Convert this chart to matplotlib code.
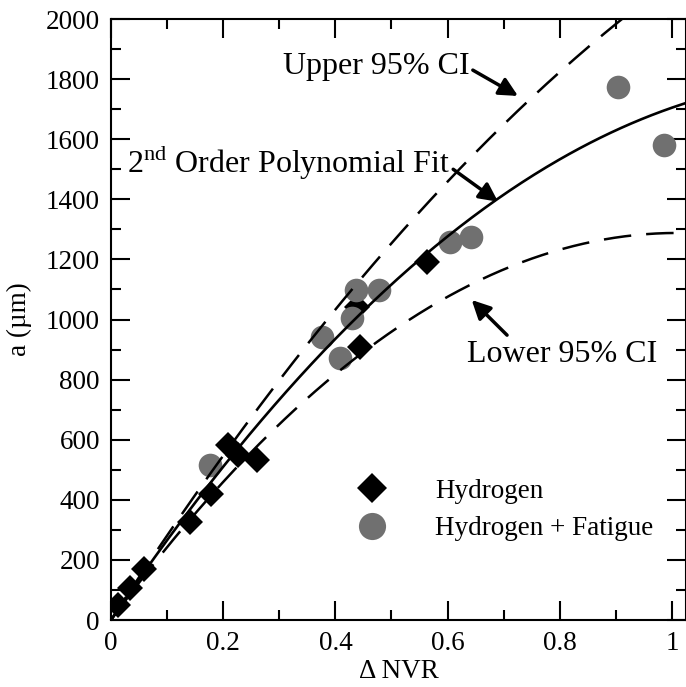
import matplotlib.pyplot as plt
import numpy as np

plt.rcParams['font.family'] = ['Liberation Serif', 'DejaVu Serif']
plt.rcParams['mathtext.fontset'] = 'custom'
plt.rcParams['mathtext.rm'] = 'Liberation Serif'

# hydrogen only specimens
hydrogen_nvr = [0.013, 0.033, 0.058, 0.141, 0.179, 0.209, 0.227, 0.26, 0.438, 0.443, 0.563]
hydrogen_a = [50, 105, 170, 327, 419, 582, 549, 532, 1043, 910, 1192]

# hydrogen + fatigue specimens
fatigue_nvr = [0.176, 0.376, 0.408, 0.429, 0.437, 0.477, 0.604, 0.642, 0.904, 0.985]
fatigue_a = [516, 943, 871, 1004, 1098, 1098, 1259, 1276, 1775, 1581]

# 2nd order polynomial coefficients (highest power first)
fit_coef = [-1057, 2762, 0]
upper_coef = [-759, 2887, 0]
lower_coef = [-1262, 2550, 0]


def label_arrow(ax, text, text_xy, ha, tail, tip):
    """Put a text label and an arrow pointing to a curve"""
    ax.text(text_xy[0], text_xy[1], text, fontsize=23, ha=ha, va='center')
    ax.annotate('', xy=tip, xytext=tail,
                arrowprops=dict(arrowstyle='-|>', color='black', lw=2.5,
                                mutation_scale=28, shrinkA=0, shrinkB=0))


fig = plt.figure(figsize=(6.86, 6.87), dpi=100)
ax = fig.add_axes([0.1618, 0.0975, 0.8382, 0.8748])

xs = np.linspace(0, 1.1, 300)
ax.plot(xs, np.polyval(fit_coef, xs), color='black', lw=1.9, zorder=3)
ax.plot(xs, np.polyval(upper_coef, xs), color='black', lw=1.8,
        linestyle=(0, (11, 6)), zorder=3)
ax.plot(xs, np.polyval(lower_coef, xs), color='black', lw=1.8,
        linestyle=(0, (11, 6)), zorder=3)

ax.plot(hydrogen_nvr, hydrogen_a, 'D', color='black', ms=13.5, mew=0,
        linestyle='none', label='Hydrogen', zorder=2)
ax.plot(fatigue_nvr, fatigue_a, 'o', color='#707070', ms=17, mew=0,
        linestyle='none', label='Hydrogen + Fatigue', zorder=2)

label_arrow(ax, 'Upper 95% CI', (0.640, 1843), 'right', (0.645, 1830), (0.7255, 1744))
label_arrow(ax, r'2$^{\mathrm{nd}}$ Order Polynomial Fit', (0.0285, 1524), 'left',
            (0.610, 1500), (0.690, 1392))
label_arrow(ax, 'Lower 95% CI', (0.635, 882), 'left', (0.706, 948), (0.643, 1065))

ax.set_xlim(0, 1.025)
ax.set_ylim(0, 2000)
ax.set_xticks(np.arange(0, 1.01, 0.2))
ax.set_xticklabels(['0', '0.2', '0.4', '0.6', '0.8', '1'])
ax.set_xticks(np.arange(0.1, 1.01, 0.2), minor=True)
ax.set_yticks(np.arange(0, 2001, 200))
ax.set_yticks(np.arange(100, 2000, 200), minor=True)
ax.tick_params(which='both', direction='in', top=True, right=True, width=1.5,
               labelsize=19.5, pad=8)
ax.tick_params(which='major', length=14)
ax.tick_params(which='minor', length=7)
for spine in ax.spines.values():
    spine.set_linewidth(1.5)

ax.set_xlabel('\u0394 NVR', fontsize=19.5, labelpad=2)
ax.set_ylabel('a (\u00b5m)', fontsize=19.5, labelpad=10)

ax.legend(loc='center left', bbox_to_anchor=(0.406, 0.183), frameon=False,
          fontsize=19.5, handlelength=1.0, handletextpad=1.85, borderpad=0,
          labelspacing=0.45, markerscale=1.15, numpoints=1)

fig.savefig('out.png', dpi=100)
plt.close()
